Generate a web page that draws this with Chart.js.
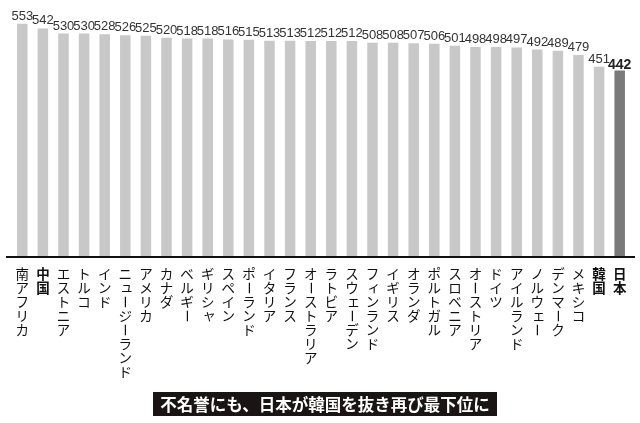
<!DOCTYPE html>
<html>
<head>
<meta charset="utf-8">
<script src="https://cdn.jsdelivr.net/npm/chart.js@4.4.1/dist/chart.umd.min.js"></script>
<style>
html,body{margin:0;padding:0;background:#fff;}
canvas{display:block;}
</style>
</head>
<body>
<canvas id="c" width="640" height="423"></canvas>
<script>
const categories = ["南アフリカ","中国","エストニア","トルコ","インド","ニュージーランド","アメリカ","カナダ","ベルギー","ギリシャ","スペイン","ポーランド","イタリア","フランス","オーストラリア","ラトビア","スウェーデン","フィンランド","イギリス","オランダ","ポルトガル","スロベニア","オーストリア","ドイツ","アイルランド","ノルウェー","デンマーク","メキシコ","韓国","日本"];
const scores = [553,542,530,530,528,526,525,520,518,518,516,515,513,513,512,512,512,508,508,507,506,501,498,498,497,492,489,479,451,442];
const boldLabels = ["中国","韓国","日本"];
const highlight = "日本";
const titleText = "不名誉にも、日本が韓国を抜き再び最下位に";

const barColors = categories.map(c => c === highlight ? "#7a7a7a" : "#c8c8c8");

const smallKana = "ャュョッィェァォゥ";

const customDraw = {
  id: "customDraw",
  afterDatasetsDraw(chart) {
    const ctx = chart.ctx;
    const meta = chart.getDatasetMeta(0);
    const xScale = chart.scales.x;
    const yBase = chart.scales.y.getPixelForValue(0);
    ctx.save();
    // axis line
    ctx.strokeStyle = "#111";
    ctx.lineWidth = 2;
    ctx.beginPath();
    ctx.moveTo(6, yBase);
    ctx.lineTo(635, yBase);
    ctx.stroke();
    // value labels
    meta.data.forEach((bar, i) => {
      const isHi = categories[i] === highlight;
      ctx.fillStyle = isHi ? "#222" : "#333";
      ctx.font = isHi ? "bold 14px 'Liberation Sans Narrow', 'Liberation Sans', sans-serif" : "13px 'Liberation Sans Narrow', 'Liberation Sans', sans-serif";
      ctx.textAlign = "center";
      ctx.textBaseline = "alphabetic";
      ctx.fillText(String(scores[i]), bar.x, bar.y - (isHi ? 2 : 4));
    });
    // vertical category labels
    categories.forEach((cat, i) => {
      const x = xScale.getPixelForValue(i);
      const bold = boldLabels.includes(cat);
      ctx.font = (bold ? "bold " : "") + "13.5px 'Noto Sans CJK JP', sans-serif";
      ctx.fillStyle = "#111";
      ctx.textAlign = "center";
      ctx.textBaseline = "middle";
      Array.from(cat).forEach((ch, j) => {
        const y = 274 + j * 14;
        if (ch === "ー") {
          ctx.save();
          ctx.translate(x, y);
          ctx.rotate(Math.PI / 2);
          ctx.fillText(ch, 0, 0);
          ctx.restore();
        } else if (smallKana.includes(ch)) {
          ctx.fillText(ch, x + 1.5, y - 1.5);
        } else {
          ctx.fillText(ch, x, y);
        }
      });
    });
    // title box
    ctx.fillStyle = "#1a1414";
    ctx.fillRect(153, 392, 344, 24);
    ctx.fillStyle = "#fff";
    ctx.font = "bold 16.5px 'Noto Sans CJK JP', sans-serif";
    ctx.textAlign = "center";
    ctx.textBaseline = "middle";
    ctx.fillText(titleText, 325, 404.5);
    ctx.restore();
  }
};

new Chart(document.getElementById("c"), {
  type: "bar",
  data: {
    labels: categories,
    datasets: [{
      data: scores,
      backgroundColor: barColors,
      borderWidth: 0,
      barPercentage: 0.51,
      categoryPercentage: 1.0
    }]
  },
  options: {
    responsive: false,
    animation: false,
    devicePixelRatio: 1,
    layout: { padding: { left: 12, right: 10, top: 4, bottom: 166 } },
    plugins: { legend: { display: false }, tooltip: { enabled: false }, title: { display: false } },
    scales: {
      x: { display: false },
      y: { display: false, min: 0, max: 600 }
    }
  },
  plugins: [customDraw]
});
</script>
</body>
</html>
